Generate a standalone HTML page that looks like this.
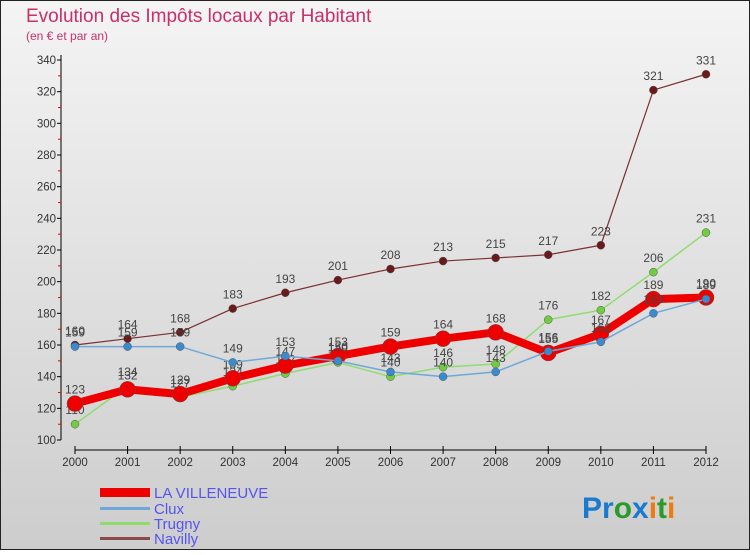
<!DOCTYPE html>
<html><head><meta charset="utf-8"><style>
body{margin:0;width:750px;height:550px;overflow:hidden;font-family:"Liberation Sans",sans-serif}
</style></head><body>
<svg id="c" width="750" height="550" xmlns="http://www.w3.org/2000/svg">
<defs><linearGradient id="bg" x1="0" y1="0" x2="0" y2="1"><stop offset="0" stop-color="#f4f4f4"/><stop offset="1" stop-color="#cdcdcd"/></linearGradient></defs>
<rect x="0.5" y="0.5" width="749" height="549" fill="url(#bg)" stroke="#222"/>
<text x="26" y="22" font-size="19" fill="#c8306a">Evolution des Impôts locaux par Habitant</text>
<text x="26" y="40" font-size="12" fill="#c8306a">(en € et par an)</text>
<g id="axes"></g><g id="series"></g>
<g font-size="15" fill="#5555ee">
<rect x="100" y="488" width="50" height="9" fill="#e00"/>
<text x="154" y="498">LA VILLENEUVE</text>
<rect x="100" y="507" width="50" height="3" fill="#6fa8d8"/>
<text x="154" y="514">Clux</text>
<rect x="100" y="522" width="50" height="3" fill="#8fdc6a"/>
<text x="154" y="529">Trugny</text>
<rect x="100" y="537" width="50" height="3" fill="#8a4a4a"/>
<text x="154" y="544">Navilly</text>
</g>
<text x="582" y="518" font-size="30" font-weight="bold"><tspan fill="#1a7ad0">Pr</tspan><tspan fill="#2a9a2a">o</tspan><tspan fill="#1a7ad0">x</tspan><tspan fill="#f07a10">i</tspan><tspan fill="#2a9a2a">t</tspan><tspan fill="#f07a10">i</tspan></text>
</svg>
<script>
const years=[2000,2001,2002,2003,2004,2005,2006,2007,2008,2009,2010,2011,2012];
const yTicks=[100,120,140,160,180,200,220,240,260,280,300,320,340];
const villeneuve=[123,132,129,139,147,153,159,164,168,155,167,189,190];
const clux=[159,159,159,149,153,150,143,140,143,156,162,180,189];
const trugny=[110,134,127,134,142,149,140,146,148,176,182,206,231];
const navilly=[160,164,168,183,193,201,208,213,215,217,223,321,331];
const NS="http://www.w3.org/2000/svg";
const xS=i=>75+i*(706-75)/12;
const yS=v=>440-(v-100)*380/240;
function mk(t,a,p){const e=document.createElementNS(NS,t);for(const k in a)e.setAttribute(k,a[k]);p.appendChild(e);return e;}
const ax=document.getElementById('axes');
let yl=mk('line',{x1:61,y1:55,x2:61,y2:440,stroke:'#000'},ax);


let xl=mk('line',{x1:75,y1:450,x2:706,y2:450,stroke:'#000'},ax);


yTicks.forEach(v=>{const y=yS(v);
mk('line',{x1:57,y1:y,x2:61,y2:y,stroke:'#000'},ax);
if(v<340)mk('line',{x1:58,y1:y-15.8,x2:61,y2:y-15.8,stroke:'#e00'},ax);
const t=mk('text',{x:56,y:y+4,'text-anchor':'end','font-size':11.5,fill:'#333'},ax);t.textContent=v;

});
years.forEach((yr,i)=>{const x=xS(i);
mk('line',{x1:x,y1:446,x2:x,y2:454,stroke:'#000'},ax);
const t=mk('text',{x:x,y:466,'text-anchor':'middle','font-size':11.5,fill:'#333'},ax);t.textContent=yr;

});
const sg=document.getElementById('series');
function draw(name,data,color,w,r,dot){
const g=mk('g',{},sg);


const pl=mk('polyline',{points:data.map((v,i)=>xS(i)+','+yS(v)).join(' '),fill:'none',stroke:color,'stroke-width':w,'stroke-linejoin':'round'},g);


data.forEach((v,i)=>{const c=mk('circle',{cx:xS(i),cy:yS(v),r:r,fill:dot,stroke:'#555','stroke-width':0.5},g);


const t=mk('text',{x:xS(i),y:yS(v)-10,'text-anchor':'middle','font-size':12,fill:'#444'},g);t.textContent=v;

});}
draw('navilly',navilly,'#7a3030',1.2,4,'#6a1a1a');
draw('trugny',trugny,'#90dc70',1.5,4,'#70cc40');
draw('villeneuve',villeneuve,'#ee0000',8,8,'#ee0000');
draw('clux',clux,'#6fa8d8',1.5,4,'#3a8ad0');
</script>
</body></html>
